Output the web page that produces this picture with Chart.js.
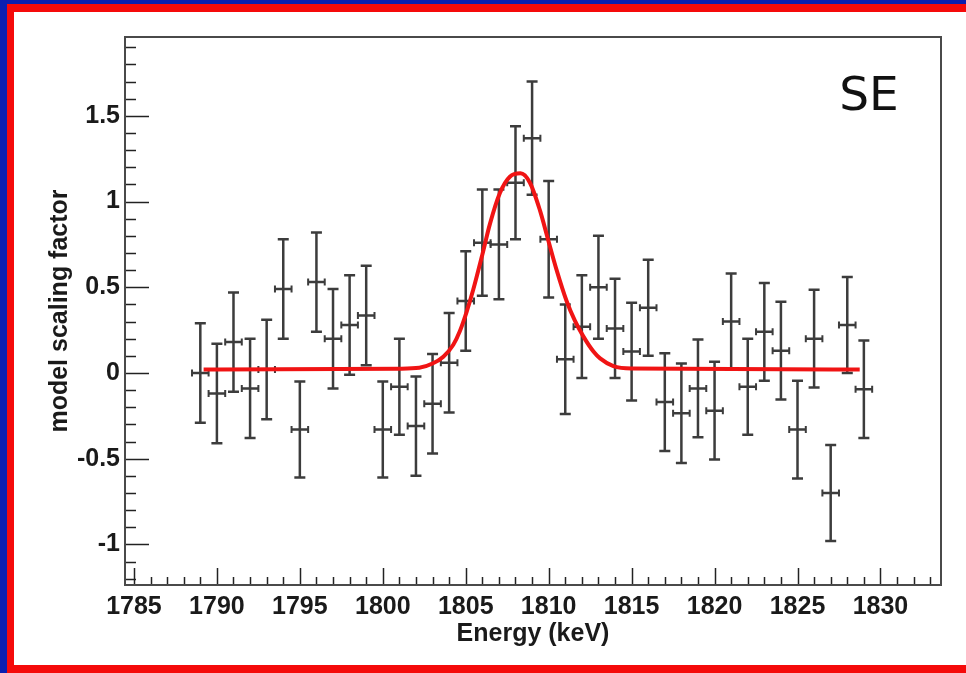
<!DOCTYPE html>
<html>
<head>
<meta charset="utf-8">
<script src="https://cdn.jsdelivr.net/npm/chart.js@4.4.1/dist/chart.umd.min.js"></script>
<style>
  html, body { margin: 0; padding: 0; background: #fff; }
  #wrap { position: relative; width: 966px; height: 673px; overflow: hidden; }
  #myChart { position: absolute; left: 0; top: 0; }
  .band { position: absolute; }
</style>
</head>
<body>
<div id="wrap">
  <canvas id="myChart" width="966" height="673"></canvas>
  <div class="band" style="left:0;top:0;width:966px;height:4px;background:#0a1fb0"></div>
  <div class="band" style="left:0;top:0;width:7px;height:673px;background:#0a1fb0"></div>
  <div class="band" style="left:7px;top:4px;width:959px;height:8px;background:#f50a0a"></div>
  <div class="band" style="left:7px;top:4px;width:7px;height:669px;background:#f50a0a"></div>
  <div class="band" style="left:7px;top:665px;width:959px;height:8px;background:#f50a0a"></div>
</div>
<script>
// measured points (keV) with their fitted scaling factor and 1 sigma error
let energy = [1789, 1790, 1791, 1792, 1793, 1794, 1795, 1796, 1797, 1798, 1799,
    1800, 1801, 1802, 1803, 1804, 1805, 1806, 1807, 1808, 1809,
    1810, 1811, 1812, 1813, 1814, 1815, 1816, 1817, 1818, 1819,
    1820, 1821, 1822, 1823, 1824, 1825, 1826, 1827, 1828, 1829];
let scaling = [0.00, -0.12, 0.18, -0.09, 0.02, 0.49, -0.33, 0.53, 0.20, 0.28, 0.335,
    -0.33, -0.08, -0.31, -0.18, 0.06, 0.42, 0.76, 0.75, 1.11, 1.37,
    0.78, 0.08, 0.27, 0.50, 0.26, 0.125, 0.38, -0.17, -0.235, -0.09,
    -0.22, 0.30, -0.08, 0.24, 0.13, -0.33, 0.20, -0.70, 0.28, -0.095];
let scalingErr = [0.29, 0.29, 0.29, 0.29, 0.29, 0.29, 0.28, 0.29, 0.29, 0.29, 0.29,
    0.28, 0.28, 0.29, 0.29, 0.29, 0.29, 0.31, 0.32, 0.33, 0.33,
    0.34, 0.32, 0.30, 0.30, 0.29, 0.285, 0.28, 0.285, 0.29, 0.285,
    0.285, 0.28, 0.28, 0.285, 0.285, 0.285, 0.285, 0.28, 0.28, 0.285];
let binHalfWidth = 0.5;

// red fit curve
let fitEnergy = [1789.2, 1801.0, 1802.2, 1803.0, 1803.65, 1804.25, 1804.65, 1805.05, 1805.45,
    1806.0, 1806.46, 1807.06, 1807.66, 1808.3, 1808.87, 1809.47, 1809.97, 1810.48,
    1811.08, 1811.58, 1812.08, 1812.7, 1813.1, 1813.9, 1815.0, 1828.75];
let fitValue = [0.02, 0.025, 0.03, 0.055, 0.095, 0.165, 0.245, 0.355, 0.485,
    0.69, 0.87, 1.05, 1.145, 1.165, 1.11, 0.95, 0.776, 0.60,
    0.42, 0.305, 0.215, 0.125, 0.085, 0.04, 0.026, 0.02];

let xTicks = [1785, 1790, 1795, 1800, 1805, 1810, 1815, 1820, 1825, 1830];
let yTicks = [-1, -0.5, 0, 0.5, 1, 1.5];

let labelFont = { family: 'Liberation Sans, Arial, sans-serif', size: 25, weight: 'bold' };

// ROOT style frame + inward ticks + the SE label
let framePlugin = {
    id: 'frame',
    afterDraw: function (chart) {
        let ctx = chart.ctx;
        let a = chart.chartArea;
        let xs = chart.scales.x;
        let ys = chart.scales.y;
        ctx.save();
        ctx.strokeStyle = '#222';
        ctx.lineWidth = 1.5;
        // x ticks every 1 keV, long every 5
        for (let v = Math.ceil(xs.min); v <= xs.max; v++) {
            let px = Math.round(xs.getPixelForValue(v)) + 0.5;
            let len = (v % 5 === 0) ? 17 : 8;
            ctx.beginPath();
            ctx.moveTo(px, a.bottom);
            ctx.lineTo(px, a.bottom - len);
            ctx.stroke();
        }
        // y ticks every 0.1, long every 0.5
        for (let i = Math.ceil(ys.min * 10); i <= Math.floor(ys.max * 10); i++) {
            let py = Math.round(ys.getPixelForValue(i / 10)) + 0.5;
            let len = (i % 5 === 0) ? 24 : 11;
            ctx.beginPath();
            ctx.moveTo(a.left, py);
            ctx.lineTo(a.left + len, py);
            ctx.stroke();
        }
        ctx.strokeStyle = '#4a4a4a';
        ctx.lineWidth = 2;
        ctx.strokeRect(a.left, a.top, a.right - a.left, a.bottom - a.top);

        ctx.fillStyle = '#111';
        ctx.font = '47px "DejaVu Sans", sans-serif';
        ctx.textAlign = 'center';
        ctx.textBaseline = 'alphabetic';
        ctx.fillText('SE', a.right - 72, a.top + 73);
        ctx.restore();
    }
};

// error bars for the measured points
let errorBarPlugin = {
    id: 'errorBars',
    beforeDatasetsDraw: function (chart) {
        let ctx = chart.ctx;
        let xs = chart.scales.x;
        let ys = chart.scales.y;
        ctx.save();
        ctx.strokeStyle = '#3c3c3c';
        for (let i = 0; i < energy.length; i++) {
            let px = xs.getPixelForValue(energy[i]);
            let py = ys.getPixelForValue(scaling[i]);
            let top = ys.getPixelForValue(scaling[i] + scalingErr[i]);
            let bot = ys.getPixelForValue(scaling[i] - scalingErr[i]);
            let left = xs.getPixelForValue(energy[i] - binHalfWidth);
            let right = xs.getPixelForValue(energy[i] + binHalfWidth);
            ctx.lineWidth = 2.5;
            ctx.beginPath();
            ctx.moveTo(px, top);
            ctx.lineTo(px, bot);
            ctx.moveTo(px - 5.5, top);
            ctx.lineTo(px + 5.5, top);
            ctx.moveTo(px - 5.5, bot);
            ctx.lineTo(px + 5.5, bot);
            ctx.moveTo(left, py);
            ctx.lineTo(right, py);
            ctx.stroke();
            ctx.lineWidth = 2;
            ctx.beginPath();
            ctx.moveTo(left, py - 3.5);
            ctx.lineTo(left, py + 3.5);
            ctx.moveTo(right, py - 3.5);
            ctx.lineTo(right, py + 3.5);
            ctx.stroke();
        }
        ctx.restore();
    }
};

let ctx = document.getElementById('myChart').getContext('2d');
let myChart = new Chart(ctx, {
    type: 'scatter',
    data: {
        datasets: [{
            label: 'data',
            data: energy.map((e, i) => ({ x: e, y: scaling[i] })),
            pointRadius: 0,
            showLine: false
        }, {
            label: 'fit',
            data: fitEnergy.map((e, i) => ({ x: e, y: fitValue[i] })),
            showLine: true,
            borderColor: '#f01414',
            borderWidth: 4,
            pointRadius: 0,
            cubicInterpolationMode: 'monotone',
            fill: false
        }]
    },
    options: {
        responsive: false,
        animation: false,
        devicePixelRatio: 1,
        layout: { padding: { left: 0, top: 37, right: 25, bottom: 0 } },
        plugins: {
            legend: { display: false },
            tooltip: { enabled: false }
        },
        scales: {
            x: {
                type: 'linear',
                min: 1784.46,
                max: 1833.65,
                grid: { display: false, drawTicks: false },
                border: { display: false },
                afterBuildTicks: function (s) { s.ticks = xTicks.map(v => ({ value: v })); },
                afterFit: function (s) { s.height = 88; },
                ticks: {
                    color: '#1a1a1a',
                    font: labelFont,
                    padding: 7,
                    maxRotation: 0,
                    autoSkip: false,
                    callback: function (v) { return String(v); }
                },
                title: {
                    display: true,
                    text: 'Energy (keV)',
                    color: '#1a1a1a',
                    font: labelFont,
                    padding: { top: 0, bottom: 24 }
                }
            },
            y: {
                type: 'linear',
                min: -1.237,
                max: 1.96,
                grid: { display: false, drawTicks: false },
                border: { display: false },
                afterBuildTicks: function (s) { s.ticks = yTicks.map(v => ({ value: v })); },
                afterFit: function (s) { s.width = 125; },
                ticks: {
                    color: '#1a1a1a',
                    font: labelFont,
                    padding: 5,
                    autoSkip: false,
                    callback: function (v) { return String(v); }
                },
                title: {
                    display: true,
                    text: 'model scaling factor',
                    color: '#1a1a1a',
                    font: labelFont,
                    padding: { top: 45, bottom: 0 }
                }
            }
        }
    },
    plugins: [errorBarPlugin, framePlugin]
});
</script>
</body>
</html>
